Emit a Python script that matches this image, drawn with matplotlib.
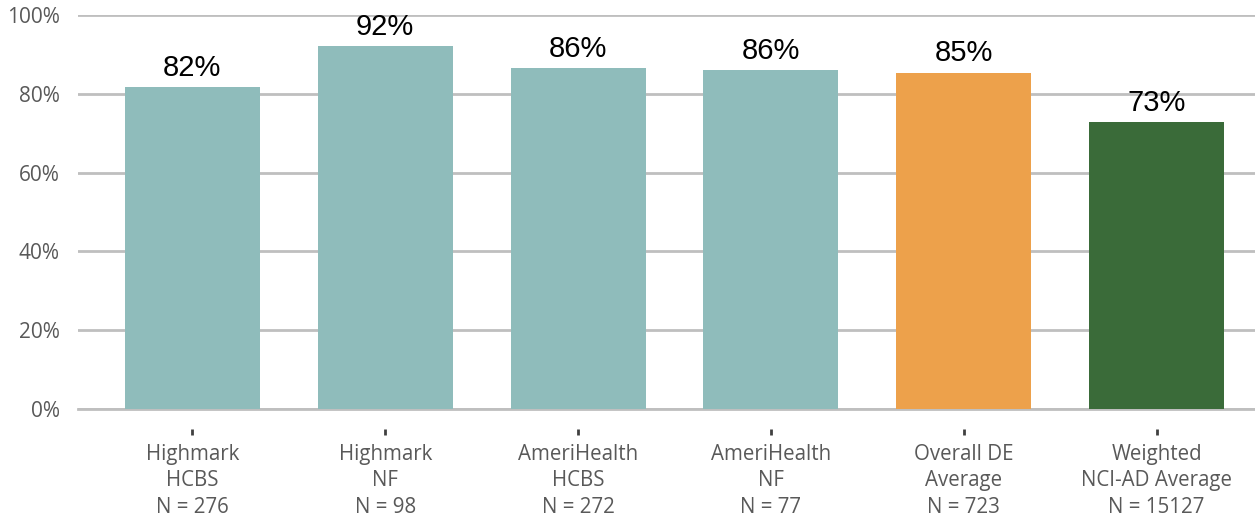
import matplotlib
matplotlib.use("Agg")
import matplotlib.pyplot as plt
import matplotlib.transforms as mtransforms
import numpy as np

categories = ["Highmark\nHCBS\nN = 276", "Highmark\nNF\nN = 98",
              "AmeriHealth\nHCBS\nN = 272", "AmeriHealth\nNF\nN = 77",
              "Overall DE\nAverage\nN = 723", "Weighted\nNCI-AD Average\nN = 15127"]
values = [81.7, 92.1, 86.6, 86.0, 85.4, 72.8]
labels = ["82%", "92%", "86%", "86%", "85%", "73%"]
colors = ["#8FBCBB", "#8FBCBB", "#8FBCBB", "#8FBCBB", "#EDA14B", "#3A6B39"]
yticks = [0, 20, 40, 60, 80, 100]

fig = plt.figure(figsize=(12.55, 5.18), dpi=100)
ax = fig.add_axes([78 / 1255, 109 / 518, 1 - 78 / 1255, (409 - 15) / 518])

x = np.arange(len(categories))
ax.bar(x, values, width=0.70, color=colors, zorder=3)

for xi, v, lab in zip(x, values, labels):
    ax.text(xi, v + 1.3, lab, ha="center", va="bottom", fontsize=21,
            family="Liberation Sans", color="black", zorder=4)

ax.set_xlim(-0.593, 5.51)
ax.set_ylim(0, 100)
ax.set_yticks(yticks)
ax.set_yticklabels([f"{t}%" for t in yticks], fontsize=15,
                   family="Open Sans", color="#595959")
ax.yaxis.grid(True, color="#BFBFBF", linewidth=2, zorder=0)
ax.tick_params(axis="y", length=0, pad=13)

ax.set_xticks(x)
ax.set_xticklabels(categories, fontsize=14.8, family="Open Sans",
                   color="#595959", linespacing=1.35)
ax.tick_params(axis="x", length=0, pad=25)

# small detached tick marks under each category
trans = mtransforms.blended_transform_factory(ax.transData, ax.transAxes)
ax.plot(x, [-0.058] * len(x), linestyle="none", marker="|", markersize=4.5,
        markeredgewidth=2, color="#404040", transform=trans, clip_on=False,
        zorder=5)

for s in ["top", "right", "left"]:
    ax.spines[s].set_visible(False)
ax.spines["bottom"].set_color("#BFBFBF")
ax.spines["bottom"].set_linewidth(2)

fig.savefig("out.png", dpi=100)
